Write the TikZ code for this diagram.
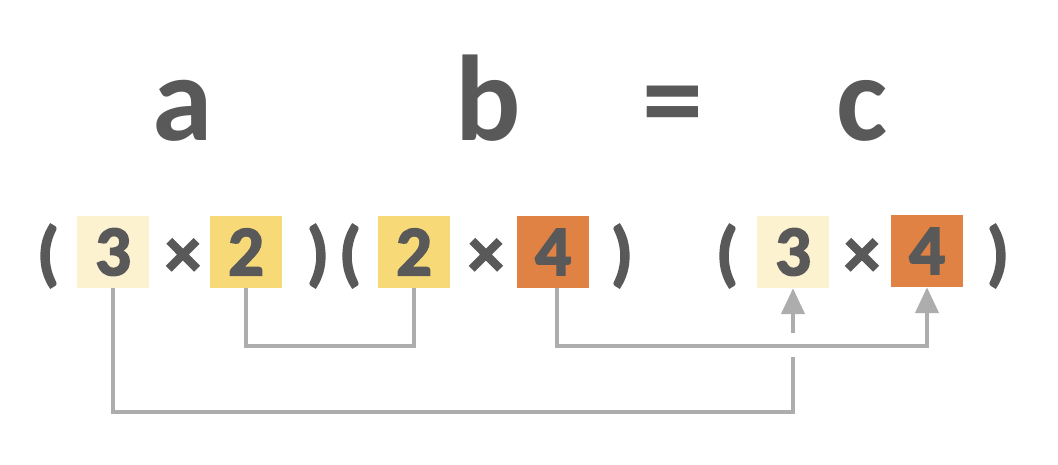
\documentclass[tikz,border=0pt]{standalone}
\usepackage{fontspec}
\setmainfont{Carlito}
\newfontfamily\heavy[BoldFeatures={FakeBold=2.5}]{Carlito}
\usetikzlibrary{arrows.meta}
\definecolor{ink}{HTML}{595959}
\definecolor{wire}{HTML}{ADADAD}
\definecolor{cream}{HTML}{FDF2D0}
\definecolor{gold}{HTML}{F8D978}
\definecolor{rust}{HTML}{DF8244}
\tikzset{
    letter/.style={text=ink, anchor=base, font=\fontsize{122}{130}\selectfont\bfseries},
    sign/.style={text=ink, anchor=base, inner sep=0, font=\heavy\fontsize{71}{75}\selectfont\bfseries},
    cell/.style={text=ink, minimum width=72, minimum height=72, inner sep=0, font=\heavy\fontsize{71}{75}\selectfont\bfseries},
    link/.style={draw=wire, line width=4.5pt},
    tip/.style={-{Triangle[width=23pt, length=26pt]}}
}

\begin{document}
\begin{tikzpicture}[x=1pt, y=-1pt]
    \useasboundingbox (0,0) rectangle (1058,464);
% Header
    \node[letter] (la) at (183,140) {a};
    \node[letter] (lb) at (488,140) {b};
    \node[letter] (leq) at (673,140) {=};
    \node[letter] (lc) at (862,140) {c};
% Cells
    \node[cell, fill=cream] (b1) at (113,252) {3};
    \node[cell, fill=gold] (b2) at (246,252) {2};
    \node[cell, fill=gold] (b3) at (414,252) {2};
    \node[cell, fill=rust] (b4) at (553,252) {4};
    \node[cell, fill=cream] (b5) at (793,252) {3};
    \node[cell, fill=rust] (b6) at (927,251) {4};
% Brackets and signs
    \node[sign] (p1) at (48,277) {(};
    \node[sign] (t1) at (183,277) {×};
    \node[sign] (q1) at (318,277) {)};
    \node[sign] (p2) at (350,277) {(};
    \node[sign] (t2) at (486,277) {×};
    \node[sign] (q2) at (622,277) {)};
    \node[sign] (p3) at (727,277) {(};
    \node[sign] (t3) at (862,277) {×};
    \node[sign] (q3) at (998,277) {)};
% Connectors
    \coordinate (turn) at (793,412);
    \coordinate (gap) at (793,357);
    \coordinate (stem) at (793,333);
    \draw[link] (b2.south) -- ++(0,58) -| (b3.south);
    \draw[link, tip] ([xshift=4pt]b4.south) -- ++(0,58) -| (b6.south);
    \draw[link] (b1.south) |- (turn) -- (gap);
    \draw[link, tip] (stem) -- (b5.south);
\end{tikzpicture}
\end{document}
